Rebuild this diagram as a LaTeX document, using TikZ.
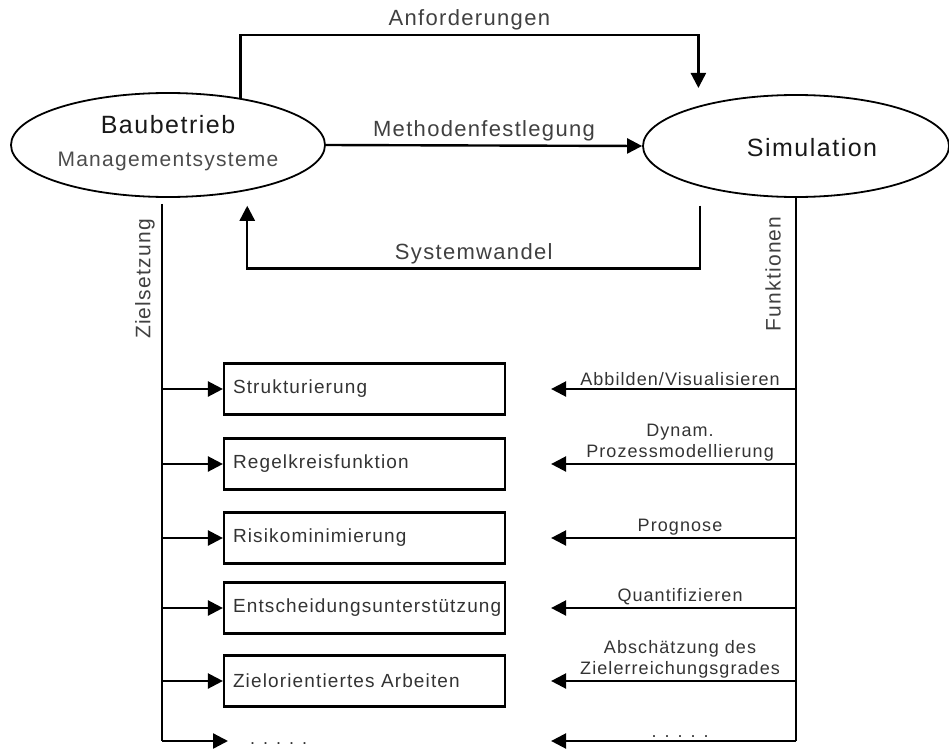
\documentclass[tikz,border=0pt]{standalone}
\usepackage{fontspec}
\setmainfont{Liberation Sans}[LetterSpace=6]
\usetikzlibrary{arrows.meta, shapes.geometric, calc}

\newcommand{\punkte}{.\hspace{8pt}.\hspace{8pt}.\hspace{8pt}.\hspace{8pt}.}

\tikzset{
  oval/.style={ellipse, draw, line width=1.8pt, inner sep=0pt, minimum width=314pt, minimum height=104pt},
  titel/.style={font=\fontsize{25}{28}\selectfont, text=black!90},
  untertitel/.style={font=\fontsize{21}{24}\selectfont, text=black!70},
  kasten/.style={rectangle, draw, line width=2.2pt, minimum width=281pt, minimum height=51pt,
    text width=263pt, align=left, inner sep=0pt, font=\fontsize{19}{22}\selectfont, text=black!80},
  lbl/.style={font=\fontsize{22}{24}\selectfont, text=black!75},
  flbl/.style={font=\fontsize{18}{21}\selectfont, text=black!80, align=center, inner sep=2pt},
  linie/.style={line width=2.4pt},
  pfeil/.style={line width=2.4pt, -{Triangle[length=15pt,width=15pt]}},
}

\begin{document}
\begin{tikzpicture}[x=1pt, y=-1pt]
  \useasboundingbox (0,0) rectangle (949,749);

  % 1. Ellipsen
  \node[oval] (bau) at (168,145) {};
  \node[titel] (bauText) at (168,125) {Baubetrieb};
  \node[untertitel] (bauSub) at (168,161) {Managementsysteme};
  \node[oval, minimum width=306pt, minimum height=102pt] (sim) at (796,146) {};
  \node[titel] (simText) at (812,148) {Simulation};

  % 2. Verbindungen zwischen den Ellipsen
  \draw[pfeil] (bau.33) |- node[pos=0.75, above, lbl] {Anforderungen} ++(458,-63) -- ++(0,53);
  \draw[pfeil] (bau.east) -- node[above, lbl] {Methodenfestlegung} (sim.west);
  \draw[pfeil, shorten <=19pt, shorten >=15pt] (sim.203) -- ++(0,82)
    -| node[pos=0.25, above, lbl] {Systemwandel} (bau.-30);

  % 3. Stammlinien links und rechts
  \coordinate (zTop) at ($(bau.south)+(-6,6)$);
  \coordinate (zBot) at (162,741);
  \coordinate (fBot) at (sim.south |- zBot);
  \draw[linie] (zTop) -- (zBot);
  \draw[linie] (sim.south) -- (fBot);
  \node[lbl, font=\fontsize{21}{24}\selectfont, rotate=90] (ziel) at (145,279) {Zielsetzung};
  \node[lbl, font=\fontsize{21}{24}\selectfont, rotate=90] (funk) at (773,274) {Funktionen};

  % 4. Zielkaesten
  \node[kasten] (str) at (364.5,389) {Strukturierung};
  \node[kasten] (reg) at (364.5,464) {Regelkreisfunktion};
  \node[kasten] (ris) at (364.5,538) {Risikominimierung};
  \node[kasten] (ent) at (364.5,608) {Entscheidungsunterstützung};
  \node[kasten] (zie) at (364.5,681) {Zielorientiertes Arbeiten};
  \node[flbl, anchor=west, inner sep=0pt] (dotsL) at (250,744) {\punkte};

  \draw[pfeil] (str.west -| zTop) -- (str.west);
  \draw[pfeil] (reg.west -| zTop) -- (reg.west);
  \draw[pfeil] (ris.west -| zTop) -- (ris.west);
  \draw[pfeil] (ent.west -| zTop) -- (ent.west);
  \draw[pfeil] (zie.west -| zTop) -- (zie.west);
  \draw[pfeil, shorten >=22pt] (zBot) -- (dotsL.west |- zBot);

  % 5. Funktionen der Simulation
  \draw[pfeil, shorten >=45pt] (str.east -| sim.south) -- node[pos=0.4, above, flbl] {Abbilden/Visualisieren} (str.east);
  \draw[pfeil, shorten >=45pt] (reg.east -| sim.south) -- node[pos=0.4, above, flbl] {Dynam.\\Prozessmodellierung} (reg.east);
  \draw[pfeil, shorten >=45pt] (ris.east -| sim.south) -- node[pos=0.4, above, flbl] {Prognose} (ris.east);
  \draw[pfeil, shorten >=45pt] (ent.east -| sim.south) -- node[pos=0.4, above, flbl] {Quantifizieren} (ent.east);
  \draw[pfeil, shorten >=45pt] (zie.east -| sim.south) -- node[pos=0.4, above, flbl] {Abschätzung des\\Zielerreichungsgrades} (zie.east);
  \draw[pfeil, shorten >=45pt] (fBot) -- node[pos=0.4, above, flbl] {\punkte} (zie.east |- fBot);
\end{tikzpicture}
\end{document}
